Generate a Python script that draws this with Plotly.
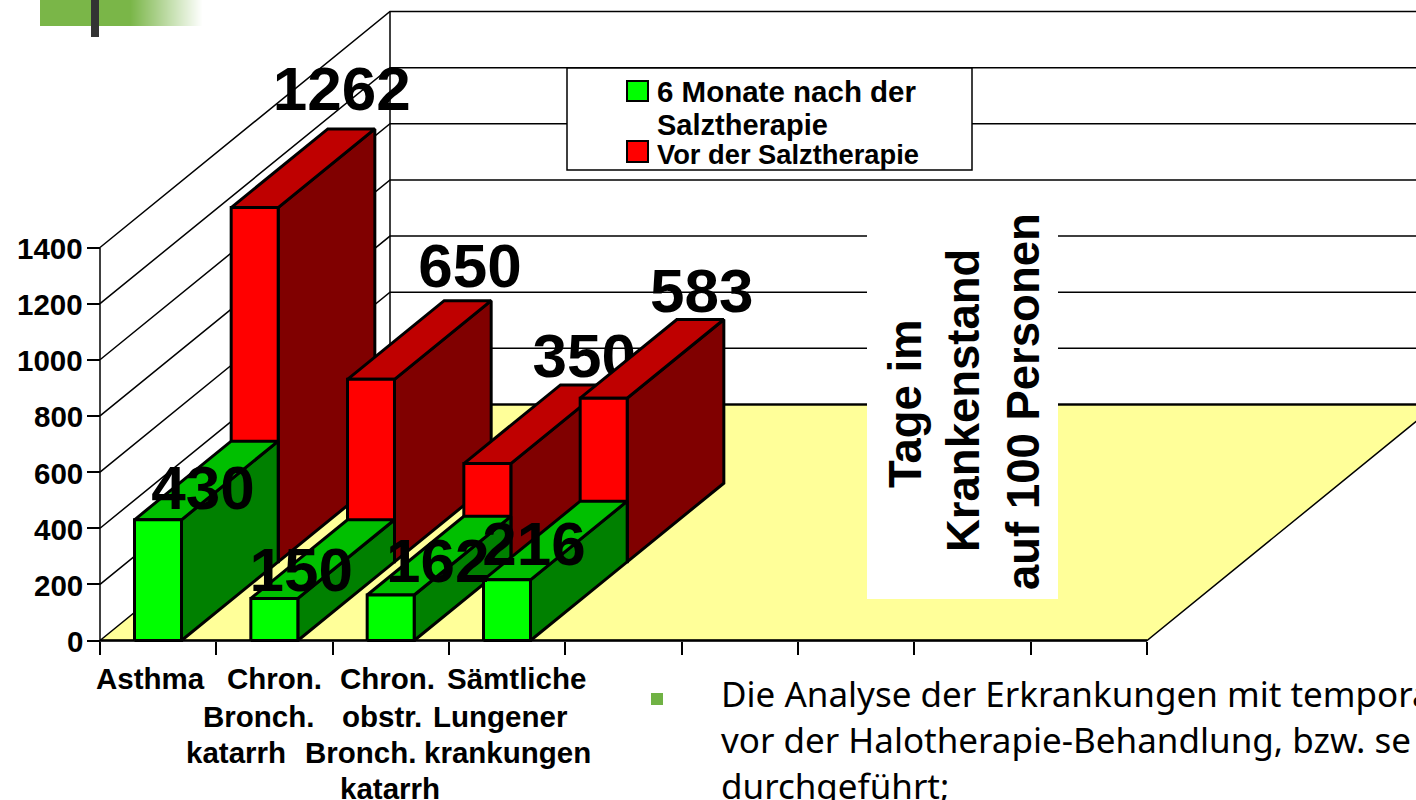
import plotly.graph_objects as go

# ---------- data ----------
categories = ["Asthma", "Chron. Bronch. katarrh", "Chron. obstr. Bronch. katarrh", "Sämtliche Lungener krankungen"]
after_therapy = [430, 150, 162, 216]
before_therapy = [1262, 650, 350, 583]
y_ticks = [0, 200, 400, 600, 800, 1000, 1200, 1400]
x_ticks = list(range(10))
series_names = ["6 Monate nach der", "Salztherapie", "Vor der Salztherapie"]
axis_title_lines = ["Tage im", "Krankenstand", "auf 100 Personen"]
body_lines = ["Die Analyse der Erkrankungen mit temporä",
              "vor der Halotherapie-Behandlung, bzw. se",
              "durchgeführt;"]

# ---------- geometry / style ----------
W, H = 1416, 800
X0, Y0 = 100, 640.5
PX_CAT = 1047 / 9
PX_VAL = 393 / 1400
DEPTH_PX = (290, 236)
DX = DEPTH_PX[0] / PX_CAT
DY = DEPTH_PX[1] / PX_VAL
BAR_GAP = 34.5 / PX_CAT
BAR_W = 47 / PX_CAT
FONT = "Liberation Sans"
GREEN = ("#00FF00", "#008000", "#00BF00")
RED = ("#FF0000", "#800000", "#BF0000")
LABEL_OFF_AFTER = [(45, 26), (27, 23), (47, 29), (27, 30)]
LABEL_OFF_BEFORE = [(87, 113), (99, 108), (97, 102), (98, 102)]
LABEL_SIZE = 62


def proj(c, v, d):
    return c + d * DX, v + d * DY


def px_x(p):
    return (p - X0) / PX_CAT


def px_y(p):
    return (Y0 - p) / PX_VAL


fig = go.Figure()


def poly(points, fill=None, lw=1.5, color="black"):
    xs = [p[0] for p in points]
    ys = [p[1] for p in points]
    kw = dict(fill="toself", fillcolor=fill) if fill else {}
    if fill and lw == 0:
        line = dict(width=0)
    else:
        line = dict(color=color, width=lw)
    fig.add_trace(go.Scatter(x=xs, y=ys, mode="lines", line=line, hoverinfo="skip",
                             showlegend=False, **kw))


def bar(i, value, d0, d1, colors):
    c0 = i + BAR_GAP
    c1 = c0 + BAR_W
    front, side, top = colors
    poly([proj(c1, 0, d0), proj(c1, 0, d1), proj(c1, value, d1), proj(c1, value, d0), proj(c1, 0, d0)], side, 3)
    poly([proj(c0, value, d0), proj(c1, value, d0), proj(c1, value, d1), proj(c0, value, d1), proj(c0, value, d0)], top, 3)
    poly([proj(c0, 0, d0), proj(c1, 0, d0), proj(c1, value, d0), proj(c0, value, d0), proj(c0, 0, d0)], front, 3)


def label(i, value, d0, off):
    cx, vy = proj(i + BAR_GAP + BAR_W / 2, value, d0)
    fig.add_trace(go.Scatter(x=[cx + off[0] / PX_CAT], y=[vy + off[1] / PX_VAL], mode="text",
                             text=[str(value)], textposition="middle center",
                             textfont=dict(family=FONT, size=LABEL_SIZE, color="black", weight=700),
                             hoverinfo="skip", showlegend=False))


# floor
N = len(x_ticks) - 1
poly([proj(0, 0, 0), proj(N, 0, 0), proj(N, 0, 1), proj(0, 0, 1)], "#FFFF99", 1.5)
# walls and grid
for v in y_ticks:
    poly([proj(0, v, 0), proj(0, v, 1), proj(N, v, 1)], None, 1.5)
poly([proj(0, 0, 0), proj(0, y_ticks[-1], 0)], None, 1.5)
poly([proj(0, 0, 1), proj(0, y_ticks[-1], 1)], None, 1.5)
poly([proj(0, 0, 1), proj(N, 0, 1)], None, 2)
poly([proj(0, 0, 0), proj(N, 0, 0)], None, 2.5)

# white box behind the rotated title
poly([(px_x(867), px_y(200)), (px_x(1058), px_y(200)), (px_x(1058), px_y(599)), (px_x(867), px_y(599))],
     "white", 0)

# bars: back row, then front row, left to right
for i, v in enumerate(before_therapy):
    bar(i, v, 1 / 3, 2 / 3, RED)
    label(i, v, 1 / 3, LABEL_OFF_BEFORE[i])
for i, v in enumerate(after_therapy):
    bar(i, v, 0, 1 / 3, GREEN)
for i, v in enumerate(after_therapy):
    label(i, v, 0, LABEL_OFF_AFTER[i])

# ---------- annotations ----------
annotations = []


def text(t, x, y, size, anchor="center", angle=0, family=FONT, weight=700):
    annotations.append(dict(text=t, x=x / W, y=1 - y / H, xref="paper", yref="paper", showarrow=False,
                            xanchor=anchor, yanchor="middle", textangle=angle,
                            font=dict(family=family, size=size, color="black", weight=weight)))


cat_lines = [
    [("Asthma", 150, 678)],
    [("Chron.", 274, 678), ("Bronch.", 258, 716), ("katarrh", 236, 752)],
    [("Chron.", 387, 678), ("obstr.", 382, 716), ("Bronch.", 360, 752), ("katarrh", 390, 788)],
    [("Sämtliche", 516, 678), ("Lungener", 500, 716), ("krankungen", 507, 752)],
]
for group in cat_lines:
    for t, x, y in group:
        text(t, x, y, 29.5)

# y tick labels, placed from the value scale
for v in y_ticks:
    annotations.append(dict(text=str(v), x=85 / W, xref="paper", y=v, yref="y", yshift=-1, showarrow=False,
                            xanchor="right", yanchor="middle",
                            font=dict(family=FONT, size=29.5, color="black", weight=700)))

for t, x, y, s in zip(series_names, [655, 655, 655], [91, 125, 155], [29.5, 29, 27.3]):
    text(t, x, y, s, anchor="left")

for t, x, y in zip(axis_title_lines, [905, 963, 1024], [404, 401, 402]):
    text(t, x, y, 45.5, angle=-90)

for t, y in zip(body_lines, [693, 739, 785]):
    text(t, 719, y, 35, anchor="left", family="Noto Sans", weight=400)

# ---------- shapes ----------
shapes = [
    dict(type="rect", xref="paper", yref="paper", x0=567 / W, x1=972 / W, y0=1 - 170 / H, y1=1 - 68 / H,
         fillcolor="white", line=dict(color="black", width=1.5), layer="above"),
    dict(type="rect", xref="paper", yref="paper", x0=627 / W, x1=648 / W, y0=1 - 101 / H, y1=1 - 81 / H,
         fillcolor=GREEN[0], line=dict(color="black", width=2), layer="above"),
    dict(type="rect", xref="paper", yref="paper", x0=627 / W, x1=648 / W, y0=1 - 162 / H, y1=1 - 141 / H,
         fillcolor=RED[0], line=dict(color="black", width=2), layer="above"),
    dict(type="rect", xref="paper", yref="paper", x0=651 / W, x1=663 / W, y0=1 - 705 / H, y1=1 - 693 / H,
         fillcolor="#70B244", line=dict(width=0), layer="above"),
    dict(type="rect", xref="paper", yref="paper", x0=40 / W, x1=130 / W, y0=1 - 26 / H, y1=1,
         fillcolor="#7AB648", line=dict(width=0), layer="above"),
]
for p in range(130, 203):
    a = 1 - (p - 130) / 72
    shapes.append(dict(type="rect", xref="paper", yref="paper", x0=p / W, x1=(p + 1) / W, y0=1 - 26 / H, y1=1,
                       fillcolor=f"rgba(122,182,72,{a:.3f})", line=dict(width=0), layer="above"))
shapes.append(dict(type="rect", xref="paper", yref="paper", x0=91 / W, x1=99 / W, y0=1 - 37 / H, y1=1,
                   fillcolor="#333333", line=dict(width=0), layer="above"))

fig.update_layout(
    width=W, height=H, margin=dict(l=0, r=0, t=0, b=0), autosize=False,
    paper_bgcolor="white", plot_bgcolor="white", showlegend=False,
    xaxis=dict(range=[px_x(0), px_x(W)], anchor="free", position=(H - Y0) / H, showgrid=False,
               zeroline=False, showline=False, tickmode="array", tickvals=x_ticks, ticks="outside",
               ticklen=13, tickwidth=1.5, tickcolor="black", showticklabels=False, fixedrange=True),
    yaxis=dict(range=[px_y(H), px_y(0)], anchor="free", position=X0 / W, showgrid=False,
               zeroline=False, showline=False, tickmode="array", tickvals=y_ticks, ticks="outside",
               ticklen=13, tickwidth=1.5, tickcolor="black", showticklabels=False, fixedrange=True),
    annotations=annotations, shapes=shapes,
)

fig.write_html("out.html", post_script="document.body.style.margin='0';document.body.style.overflow='hidden';",
               config=dict(displayModeBar=False))
